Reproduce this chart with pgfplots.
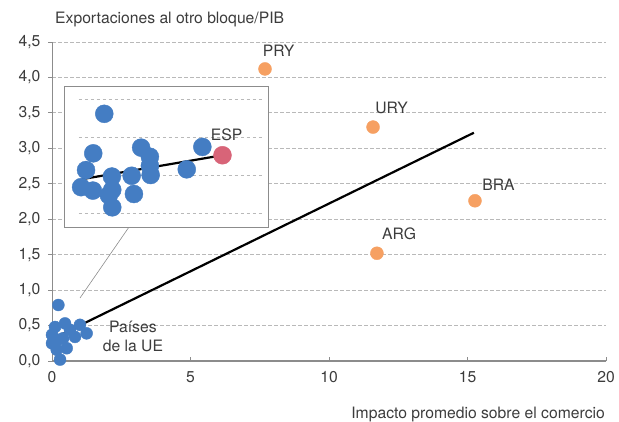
\documentclass[border=0pt]{standalone}
\usepackage{fontspec}
\setmainfont{TeX Gyre Heros}
\usepackage{pgfplots}
\pgfplotsset{compat=1.18}

\definecolor{euBlue}{RGB}{68,125,195}
\definecolor{latOrange}{RGB}{246,160,98}
\definecolor{espRed}{RGB}{216,100,120}
\definecolor{txt}{RGB}{60,60,60}
\definecolor{axgray}{RGB}{140,140,140}
\definecolor{gridgray}{RGB}{185,185,185}

\begin{document}
\begin{tikzpicture}[font=\fontsize{15.7}{19}\selectfont, text=txt]
\path[use as bounding box] (0,0) rectangle (619pt,421pt);

% main chart
\begin{axis}[
  at={(52pt,60pt)}, anchor=south west,
  scale only axis, width=554pt, height=319pt,
  xmin=0, xmax=20, ymin=0, ymax=4.5,
  axis x line=bottom, axis y line=left,
  axis line style={-, draw=axgray},
  x axis line style={line width=1.6pt},
  y axis line style={line width=0.8pt},
  xtick={0,5,10,15,20},
  ytick={0,0.5,1,1.5,2,2.5,3,3.5,4,4.5},
  tick align=inside, major tick length=4pt,
  tick style={draw=axgray, line width=0.8pt},
  ytick style={xshift=-4pt},
  ymajorgrids,
  major grid style={draw=gridgray, dash pattern=on 3.5pt off 2.5pt, line width=0.8pt},
  /pgf/number format/assume math mode=true,
  yticklabel style={xshift=-8pt, /pgf/number format/use comma,
    /pgf/number format/fixed, /pgf/number format/fixed zerofill,
    /pgf/number format/precision=1},
  xticklabel style={yshift=-7pt},
  tick label style={text=txt},
  clip=false,
]
  % EU countries
  \addplot[only marks, mark=*, mark size=6pt, color=euBlue] coordinates {
    (0.23,0.79) (0.11,0.48) (0.47,0.53) (1.01,0.51) (1.25,0.39)
    (0.83,0.34) (0.00,0.25) (0.17,0.16) (0.53,0.18) (0.29,0.02)
    (0.40,0.32) (0.65,0.44) (0.00,0.37) (0.22,0.30)
  };
  % Mercosur
  \addplot[only marks, mark=*, mark size=6.5pt, color=latOrange] coordinates {
    (7.69,4.12) (11.59,3.30) (15.27,2.26) (11.73,1.52)
  };
  % fit
  \addplot[black, line width=2.2pt] coordinates {(0.05,0.32) (15.23,3.22)};

  \node at (axis cs:8.18,4.37) {PRY};
  \node at (axis cs:12.26,3.575) {URY};
  \node at (axis cs:16.12,2.49) {BRA};
  \node at (axis cs:12.53,1.80) {ARG};
  \node[align=center, inner sep=0pt] at (axis cs:2.92,0.353) {Países\\de la UE};
\end{axis}

% leader line to the inset
\draw[axgray, line width=0.6pt] (129pt,194pt) -- (80pt,123pt);

% inset: EU countries
\begin{axis}[
  at={(64pt,194pt)}, anchor=south west,
  scale only axis, width=204pt, height=141pt,
  xmin=0, xmax=5.368, ymin=0.632, ymax=4.342,
  xtick=\empty, ytick=\empty,
  axis line style={draw=axgray, line width=0.8pt},
  axis background/.style={fill=white},
  clip=false,
]
  \foreach \yy in {1,2,3,4} {
    \edef\tmp{\noexpand\draw[gridgray, dash pattern=on 3.5pt off 2.5pt, line width=0.8pt]
      (axis cs:0.39,\yy) -- (axis cs:5.21,\yy);}
    \tmp
  }
  \addplot[only marks, mark=*, mark size=9pt, color=euBlue] coordinates {
    (1.06,3.61) (0.77,2.57) (0.58,2.13) (0.45,1.68) (0.76,1.59)
    (1.26,1.96) (1.27,1.61) (1.18,1.47) (1.27,1.15) (1.78,1.98)
    (1.84,1.50) (2.03,2.72) (2.26,2.48) (2.28,2.00) (2.26,2.24)
    (3.23,2.15) (3.64,2.74)
  };
  \addplot[black, line width=2.2pt] coordinates {(0.47,1.89) (4.17,2.52)};
  \addplot[only marks, mark=*, mark size=9pt, color=espRed] coordinates {(4.17,2.52)};
  \node at (axis cs:4.28,3.05) {ESP};
\end{axis}

\node[anchor=base west, inner sep=0pt] at (55pt,397pt) {Exportaciones al otro bloque/PIB};
\node[anchor=base east, inner sep=0pt] at (605pt,3pt) {Impacto promedio sobre el comercio};
\end{tikzpicture}
\end{document}
